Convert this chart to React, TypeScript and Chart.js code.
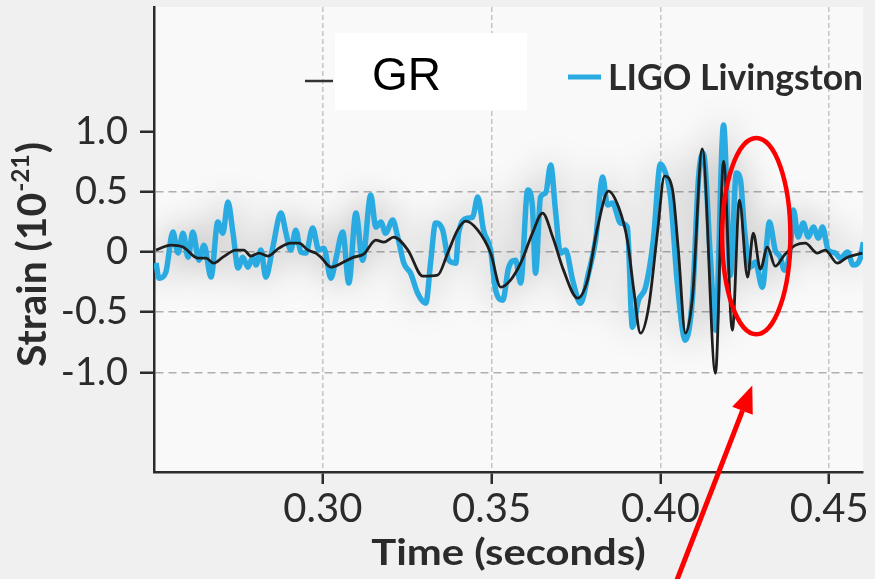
import React, { useEffect, useRef } from "react";
import { Chart, registerables } from "chart.js";

Chart.register(...registerables);

// LIGO Livingston strain (10^-21) against time in seconds
const livingstonTime = [
  0.2506, 0.2515, 0.2535, 0.2556, 0.2571, 0.2586, 0.2601, 0.2615, 0.2633, 0.2648,
  0.2669, 0.2689, 0.2704, 0.2719, 0.2734, 0.2749, 0.2763, 0.2778, 0.2793, 0.2802,
  0.2817, 0.2831, 0.2852, 0.2876, 0.2891, 0.2905, 0.292, 0.2935, 0.295, 0.297,
  0.2988, 0.3003, 0.3024, 0.3038, 0.3059, 0.3077, 0.3098, 0.3118, 0.3142, 0.3157,
  0.3172, 0.3186, 0.3207, 0.3222, 0.324, 0.326, 0.3281, 0.3305, 0.332, 0.3334,
  0.3355, 0.3373, 0.3394, 0.3402, 0.3429, 0.3444, 0.3459, 0.3476, 0.3497, 0.3512,
  0.3533, 0.355, 0.3571, 0.3586, 0.3607, 0.3621, 0.363, 0.3645, 0.366, 0.3675,
  0.3689, 0.3704, 0.3719, 0.374, 0.3763, 0.3787, 0.3808, 0.3829, 0.3843, 0.3858,
  0.3882, 0.3902, 0.3917, 0.3935, 0.3956, 0.3979, 0.4, 0.4015, 0.403, 0.405,
  0.4074, 0.4095, 0.4113, 0.4127, 0.4148, 0.4163, 0.4187, 0.4207, 0.4225, 0.4237,
  0.4249, 0.4266, 0.4281, 0.4302, 0.4323, 0.434, 0.4355, 0.4367, 0.4385, 0.4394,
  0.4408, 0.4423, 0.4438, 0.4453, 0.4468, 0.448, 0.4497, 0.4518, 0.4533, 0.4554,
  0.4571, 0.4592, 0.4601,
];
const livingstonStrain = [
  -0.09, -0.217, -0.167, 0.167, -0.008, 0.158, -0.042, 0.167, -0.067, 0.058,
  -0.208, 0.25, 0.158, 0.417, 0.158, -0.133, -0.042, -0.125, -0.042, -0.108,
  0.017, -0.208, 0.042, 0.325, 0.158, 0.017, 0.183, 0.0, -0.008, 0.2,
  0.017, 0.033, -0.217, -0.067, 0.167, -0.258, 0.325, -0.067, 0.475, 0.208,
  0.25, 0.158, 0.267, 0.125, -0.092, -0.175, -0.342, -0.425, -0.067, 0.242,
  0.183, -0.067, -0.092, 0.158, 0.283, 0.292, 0.458, 0.183, 0.017, -0.317,
  -0.4, -0.133, -0.067, -0.258, 0.517, 0.375, -0.175, 0.458, 0.492, 0.725,
  0.35, -0.008, 0.017, -0.233, -0.425, -0.175, 0.1, 0.625, 0.392, 0.408,
  0.242, 0.208, -0.625, -0.4, -0.292, 0.1, 0.733, 0.658, 0.458, -0.258,
  -0.733, -0.375, 0.625, 0.825, -0.042, -0.65, 1.058, -0.192, 0.658, 0.6,
  0.183, -0.125, -0.083, -0.292, 0.25, 0.017, -0.042, -0.15, 0.042, 0.35,
  0.125, 0.242, 0.125, 0.208, 0.117, 0.208, 0.017, -0.008, -0.05, 0.0,
  -0.108, -0.05, 0.083,
];

// General-relativity waveform
const grTime = [
  0.2506, 0.255, 0.2586, 0.263, 0.2654, 0.2677, 0.2704, 0.2743, 0.2766, 0.2787,
  0.2811, 0.2837, 0.287, 0.2905, 0.2929, 0.2956, 0.2979, 0.2994, 0.3024, 0.3062,
  0.3092, 0.3121, 0.3157, 0.3181, 0.321, 0.3252, 0.3296, 0.334, 0.337, 0.3399,
  0.3423, 0.3459, 0.3497, 0.3527, 0.3556, 0.3586, 0.3621, 0.3651, 0.3681, 0.3713,
  0.3755, 0.3784, 0.3814, 0.3846, 0.3876, 0.3902, 0.392, 0.3941, 0.3965, 0.3991,
  0.4012, 0.4036, 0.4053, 0.4074, 0.4095, 0.4124, 0.4163, 0.4187, 0.4213, 0.4234,
  0.4258, 0.4275, 0.4296, 0.4317, 0.434, 0.4367, 0.44, 0.4429, 0.4465, 0.4488,
  0.4524, 0.4554, 0.4598,
];
const grStrain = [
  0.017, 0.058, 0.042, -0.05, -0.05, -0.092, -0.042, 0.017, 0.017, -0.033,
  -0.008, -0.033, 0.033, 0.075, 0.075, 0.017, -0.008, -0.042, -0.125, -0.083,
  -0.042, -0.017, 0.1, 0.083, 0.125, 0.017, -0.2, -0.192, -0.008, 0.183,
  0.258, 0.183, -0.008, -0.292, -0.233, -0.092, 0.158, 0.325, 0.125, -0.15,
  -0.383, -0.233, 0.208, 0.508, 0.375, 0.1, -0.292, -0.675, -0.458, 0.158,
  0.633, 0.517, 0.017, -0.675, -0.375, 0.858, -1.008, 0.758, -0.65, 0.433,
  -0.208, 0.158, -0.142, 0.042, -0.117, -0.025, 0.058, 0.075, -0.008, 0.017,
  -0.092, -0.042, -0.008,
];

const timeTicks = [0.3, 0.35, 0.4, 0.45];
const strainTicks = [-1.0, -0.5, 0, 0.5, 1.0];
const seriesNames = ["LIGO Livingston", "GR"];

// Ringdown highlight (data units): centre time, centre strain, half-width, half-height
const ringdownEllipse = { t: 0.4284, s: 0.133, dt: 0.0101, ds: 0.817 };
// Pointer arrow (data units): tail and tip
const pointerArrow = { t0: 0.4046, s0: -2.75, t1: 0.4272, s1: -1.11 };

const BLUE = "#29abe2";
const INK = "#2b2b2b";

// draw text stretched horizontally along its own baseline
function stretchedText(ctx: any, text: string, x: number, y: number, sx: number) {
  ctx.save();
  ctx.translate(x, y);
  ctx.scale(sx, 1);
  ctx.fillText(text, 0, 0);
  ctx.restore();
}

const overlays = {
  id: "overlays",
  beforeDraw(chart: any) {
    const { ctx, chartArea: a, width, height } = chart;
    ctx.save();
    ctx.fillStyle = "#f0f0f0";
    ctx.fillRect(0, 0, width, height);
    ctx.fillStyle = "#f9f9f9";
    ctx.fillRect(a.left, a.top, a.right - a.left, a.bottom - a.top);
    ctx.restore();
  },
  beforeDatasetDraw(chart: any, args: any) {
    const ctx = chart.ctx;
    ctx.save();
    if (args.index === 0) {
      ctx.shadowColor = "rgba(0,0,0,0.32)";
      ctx.shadowBlur = 36;
    }
  },
  afterDatasetDraw(chart: any) {
    chart.ctx.restore();
  },
  afterDraw(chart: any) {
    const { ctx } = chart;
    const xs = chart.scales.x;
    const ys = chart.scales.y;
    ctx.save();

    // x axis title
    ctx.fillStyle = INK;
    ctx.font = "bold 37px Lato";
    ctx.textAlign = "center";
    ctx.textBaseline = "alphabetic";
    stretchedText(ctx, "Time (seconds)", (chart.chartArea.left + chart.chartArea.right) / 2, 565, 1.13);

    // y axis title with superscript exponent
    ctx.save();
    ctx.translate(46, 367);
    ctx.rotate(-Math.PI / 2);
    ctx.scale(1.02, 1);
    ctx.textAlign = "left";
    ctx.font = "bold 40px Lato";
    const base = "Strain (10";
    ctx.fillText(base, 0, 0);
    let w = ctx.measureText(base).width;
    ctx.font = "bold 24px Lato";
    ctx.fillText("-21", w + 1, -17);
    w += ctx.measureText("-21").width + 2;
    ctx.font = "bold 40px Lato";
    ctx.fillText(")", w, 0);
    ctx.restore();

    // legend: GR entry
    ctx.strokeStyle = "#333";
    ctx.lineWidth = 2.5;
    ctx.beginPath();
    ctx.moveTo(305, 81);
    ctx.lineTo(333, 81);
    ctx.stroke();
    ctx.fillStyle = "#ffffff";
    ctx.fillRect(335, 33, 192, 77);
    ctx.fillStyle = "#000";
    ctx.font = "46px 'Liberation Sans'";
    ctx.textAlign = "left";
    ctx.fillText(seriesNames[1], 372, 90);

    // legend: Livingston entry
    ctx.strokeStyle = BLUE;
    ctx.lineWidth = 5;
    ctx.beginPath();
    ctx.moveTo(568, 77);
    ctx.lineTo(601, 77);
    ctx.stroke();
    ctx.fillStyle = INK;
    ctx.font = "bold 35.5px Lato";
    ctx.fillText(seriesNames[0], 608, 90);

    // ringdown ellipse
    const cx = xs.getPixelForValue(ringdownEllipse.t);
    const cy = ys.getPixelForValue(ringdownEllipse.s);
    const rx = xs.getPixelForValue(ringdownEllipse.t + ringdownEllipse.dt) - cx;
    const ry = cy - ys.getPixelForValue(ringdownEllipse.s + ringdownEllipse.ds);
    ctx.strokeStyle = "#ff0000";
    ctx.lineWidth = 4.5;
    ctx.beginPath();
    ctx.ellipse(cx, cy, rx, ry, 0, 0, Math.PI * 2);
    ctx.stroke();

    // arrow
    const x0 = xs.getPixelForValue(pointerArrow.t0);
    const y0 = ys.getPixelForValue(pointerArrow.s0);
    const x1 = xs.getPixelForValue(pointerArrow.t1);
    const y1 = ys.getPixelForValue(pointerArrow.s1);
    const ang = Math.atan2(y1 - y0, x1 - x0);
    const head = 27;
    const half = 11;
    const bx = x1 - head * Math.cos(ang);
    const by = y1 - head * Math.sin(ang);
    ctx.strokeStyle = "#ff0000";
    ctx.fillStyle = "#ff0000";
    ctx.lineWidth = 5;
    ctx.beginPath();
    ctx.moveTo(x0, y0);
    ctx.lineTo(bx, by);
    ctx.stroke();
    ctx.beginPath();
    ctx.moveTo(x1, y1);
    ctx.lineTo(bx + half * Math.sin(ang), by - half * Math.cos(ang));
    ctx.lineTo(bx - half * Math.sin(ang), by + half * Math.cos(ang));
    ctx.closePath();
    ctx.fill();

    ctx.restore();
  },
};

export default function App() {
  const ref = useRef<HTMLCanvasElement>(null);

  useEffect(() => {
    if (!ref.current) return;
    const chart = new Chart(ref.current, {
      type: "line",
      data: {
        datasets: [
          {
            label: seriesNames[0],
            data: livingstonTime.map((t, i) => ({ x: t, y: livingstonStrain[i] })),
            borderColor: BLUE,
            borderWidth: 5.5,
            pointRadius: 0,
            cubicInterpolationMode: "monotone",
            order: 1,
          },
          {
            label: seriesNames[1],
            data: grTime.map((t, i) => ({ x: t, y: grStrain[i] })),
            borderColor: "#1e1e1e",
            borderWidth: 2.8,
            pointRadius: 0,
            cubicInterpolationMode: "monotone",
            order: 0,
          },
        ],
      },
      options: {
        animation: false,
        responsive: false,
        layout: { padding: { top: 7, right: 12, left: 0, bottom: 0 } },
        plugins: { legend: { display: false }, tooltip: { enabled: false } },
        scales: {
          x: {
            type: "linear",
            min: 0.25,
            max: 0.46,
            afterBuildTicks: (s: any) => {
              s.ticks = timeTicks.map((v) => ({ value: v }));
            },
            afterFit: (s: any) => {
              s.height = 107;
              s.paddingLeft = 0;
              s.paddingRight = 0;
            },
            ticks: {
              callback: (v: any) => Number(v).toFixed(2),
              font: { family: "Lato", size: 40 },
              color: INK,
              padding: 1,
              maxRotation: 0,
            },
            grid: {
              color: "#c4c4c4",
              lineWidth: 1.5,
              tickColor: INK,
              tickLength: 12,
              tickWidth: 2.5,
            },
            border: { color: INK, width: 2.5, dash: [5, 3] },
          },
          y: {
            type: "linear",
            min: -1.83,
            max: 2.04,
            afterBuildTicks: (s: any) => {
              s.ticks = strainTicks.map((v) => ({ value: v }));
            },
            afterFit: (s: any) => {
              s.width = 154;
              s.paddingTop = 0;
              s.paddingBottom = 0;
            },
            ticks: {
              callback: (v: any) => (Number(v) === 0 ? "0" : Number(v).toFixed(1)),
              font: { family: "Lato", size: 38 },
              color: INK,
              padding: 12,
            },
            grid: {
              color: (c: any) => (c.tick && c.tick.value === 1 ? "rgba(0,0,0,0)" : "#b0b0b0"),
              lineWidth: 1.5,
              tickColor: INK,
              tickLength: 14,
              tickWidth: 2.5,
            },
            border: { color: INK, width: 2.5, dash: [8, 5] },
          },
        },
      },
      plugins: [overlays],
    });
    return () => chart.destroy();
  }, []);

  return (
    <div style={{ position: "fixed", left: 0, top: 0, width: 875, height: 579 }}>
      <canvas ref={ref} width={875} height={579} style={{ display: "block" }} />
    </div>
  );
}
